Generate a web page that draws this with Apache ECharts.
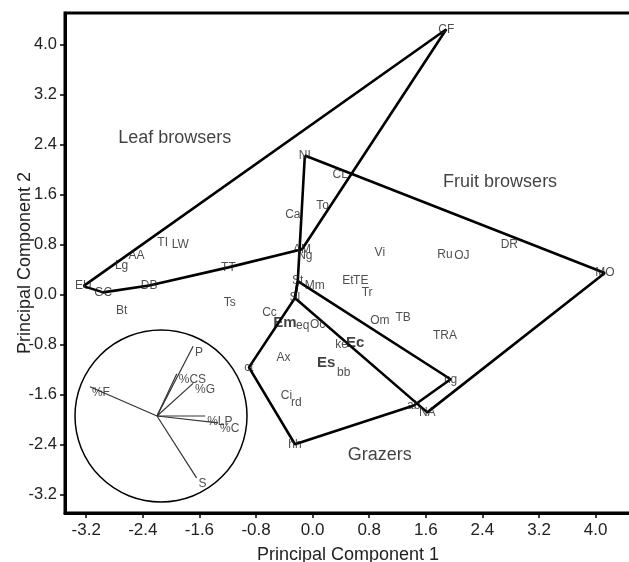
<!DOCTYPE html>
<html><head><meta charset="utf-8">
<script src="https://cdn.jsdelivr.net/npm/echarts@6/dist/echarts.min.js"></script>
<style>html,body{margin:0;padding:0;background:#fff}#c{width:629px;height:562px}</style>
</head><body><div id="c"></div>
<script>
// Species scores (PC1, PC2)
const species = ['CF','NI','CL','To','Ca','AM','Ng','TI','LW','AA','Lg','EU','GC','DB','Bt','TT','Ts','Cc','Em','eq','Oc','St','Sl','Mm','Et','TE','Tr','Vi','Om','TB','TRA','Ru','OJ','DR','MO','ke','Ec','Es','bb','Ax','ct','Ci','rd','hh','ab','NA','ng'];
const pc1 = [1.89,-0.11,0.39,0.14,-0.28,-0.15,-0.11,-2.12,-1.87,-2.49,-2.70,-3.24,-2.96,-2.31,-2.70,-1.19,-1.17,-0.61,-0.39,-0.14,0.07,-0.21,-0.25,0.03,0.50,0.68,0.77,0.95,0.95,1.28,1.87,1.87,2.11,2.78,4.13,0.41,0.60,0.19,0.44,-0.41,-0.90,-0.37,-0.23,-0.25,1.43,1.62,1.95];
const pc2 = [4.24,2.22,1.92,1.42,1.28,0.72,0.61,0.83,0.80,0.62,0.46,0.13,0.03,0.14,-0.26,0.43,-0.13,-0.29,-0.45,-0.51,-0.48,0.21,-0.06,0.13,0.21,0.21,0.03,0.66,-0.42,-0.37,-0.67,0.64,0.61,0.80,0.34,-0.80,-0.78,-1.09,-1.25,-1.01,-1.17,-1.63,-1.74,-2.40,-1.78,-1.89,-1.36];
const boldSpecies = ['Em','Ec','Es'];

// Convex hulls (vertex species, in drawing order)
const leafHull = ['EU','CF','AM','TT','DB','GC','EU'];
const fruitHull = ['NI','MO','NA','Sl','St','NI'];
const grazerHull = ['St','ng','ab','hh','ct','Sl','St'];

// Group labels
const groupNames = ['Leaf browsers','Fruit browsers','Grazers'];
const groupPC1 = [-1.95, 2.65, 0.95];
const groupPC2 = [2.50, 1.79, -2.58];

// Tick labels
const ticks = [-3.2,-2.4,-1.6,-0.8,0.0,0.8,1.6,2.4,3.2,4.0];

// Inset loadings
const variables = ['P','%CS','%G','%F','%LP','%C','S'];
const loading1 = [0.42,0.23,0.42,-0.78,0.56,0.71,0.46];
const loading2 = [0.81,0.49,0.38,0.34,0.00,-0.08,-0.72];

const FONT = 'Liberation Sans';
const idx = {};
species.forEach((s,i)=>{ idx[s]=i; });
const hullData = h => h.map(s => [pc1[idx[s]], pc2[idx[s]]]);

const hullSeries = [leafHull, fruitHull, grazerHull].map(h => ({
  type:'line', xAxisIndex:0, yAxisIndex:0, data: hullData(h),
  symbol:'none', silent:true, animation:false, z:2,
  lineStyle:{color:'#000', width:2.6}
}));

const speciesData = species.map((s,i) => {
  const bold = boldSpecies.indexOf(s) >= 0;
  return {
    name:s, value:[pc1[i], pc2[i]],
    label: bold ? {fontWeight:'bold', fontSize:15, color:'#111'} : {}
  };
});

const loadingSeries = variables.map((v,i) => ({
  type:'line', xAxisIndex:1, yAxisIndex:1, data:[[0,0],[loading1[i], loading2[i]]],
  symbol:'none', silent:true, animation:false, z:3,
  lineStyle:{color:'#333', width:1.2}
}));

const chart = echarts.init(document.getElementById('c'), null, {renderer:'canvas'});
chart.setOption({
  animation:false,
  backgroundColor:'#fff',
  grid:[
    {left:65, top:13, right:-2, bottom:49, show:true, borderColor:'#000', borderWidth:3, backgroundColor:'transparent', containLabel:false, outerBoundsMode:'none'},
    {left:71, top:330, width:172, height:172, show:false, containLabel:false, outerBoundsMode:'none'}
  ],
  polar:{center:[161,416], radius:86},
  angleAxis:{
    type:'value', min:0, max:360, polarIndex:0,
    axisLine:{show:true, lineStyle:{color:'#000', width:1.5}},
    axisTick:{show:false}, axisLabel:{show:false}, splitLine:{show:false}
  },
  radiusAxis:{type:'value', min:0, max:1, polarIndex:0, show:false,
    axisLine:{show:false}, axisTick:{show:false}, axisLabel:{show:false}, splitLine:{show:false}},
  xAxis:[
    {gridIndex:0, type:'value', min:-3.5, max:4.5,
     name:'Principal Component 1', nameLocation:'middle', nameGap:33, nameMoveOverlap:false,
     nameTextStyle:{fontFamily:FONT, fontSize:18, color:'#222'},
     axisLine:{onZero:false, lineStyle:{color:'#000', width:3}},
     axisTick:{show:true, length:5, customValues:ticks, lineStyle:{color:'#000', width:1.5}},
     axisLabel:{customValues:ticks, formatter:v=>Number(v).toFixed(1), fontFamily:FONT, fontSize:17, color:'#222', margin:9},
     splitLine:{show:false}},
    {gridIndex:1, type:'value', min:-1, max:1, show:false, splitLine:{show:false}}
  ],
  yAxis:[
    {gridIndex:0, type:'value', min:-3.5, max:4.5,
     name:'Principal Component 2', nameLocation:'middle', nameGap:31, nameMoveOverlap:false,
     nameTextStyle:{fontFamily:FONT, fontSize:18, color:'#222'},
     axisLine:{onZero:false, lineStyle:{color:'#000', width:3}},
     axisTick:{show:true, length:5, customValues:ticks, lineStyle:{color:'#000', width:1.5}},
     axisLabel:{customValues:ticks, formatter:v=>Number(v).toFixed(1), fontFamily:FONT, fontSize:16.5, color:'#222', margin:8},
     splitLine:{show:false}},
    {gridIndex:1, type:'value', min:-1, max:1, show:false, splitLine:{show:false}}
  ],
  series:[
    ...hullSeries,
    ...loadingSeries,
    {type:'scatter', xAxisIndex:0, yAxisIndex:0, data:speciesData,
     symbolSize:1, itemStyle:{color:'transparent'}, silent:true, z:4,
     label:{show:true, position:'inside', formatter:p=>p.name, fontFamily:FONT, fontSize:12, color:'#222'}},
    {type:'scatter', xAxisIndex:0, yAxisIndex:0,
     data: groupNames.map((g,i)=>({name:g, value:[groupPC1[i], groupPC2[i]]})),
     symbolSize:1, itemStyle:{color:'transparent'}, silent:true, z:4,
     label:{show:true, position:'inside', formatter:p=>p.name, fontFamily:FONT, fontSize:18, color:'#111'}},
    {type:'scatter', xAxisIndex:1, yAxisIndex:1,
     data: variables.map((v,i)=>({name:v, value:[loading1[i], loading2[i]]})),
     symbolSize:0, itemStyle:{color:'transparent'}, silent:true, z:4,
     label:{show:true, position:[2,0], align:'left', verticalAlign:'top', formatter:p=>p.name, fontFamily:FONT, fontSize:12, color:'#222'}}
  ]
});
</script>
</body></html>
